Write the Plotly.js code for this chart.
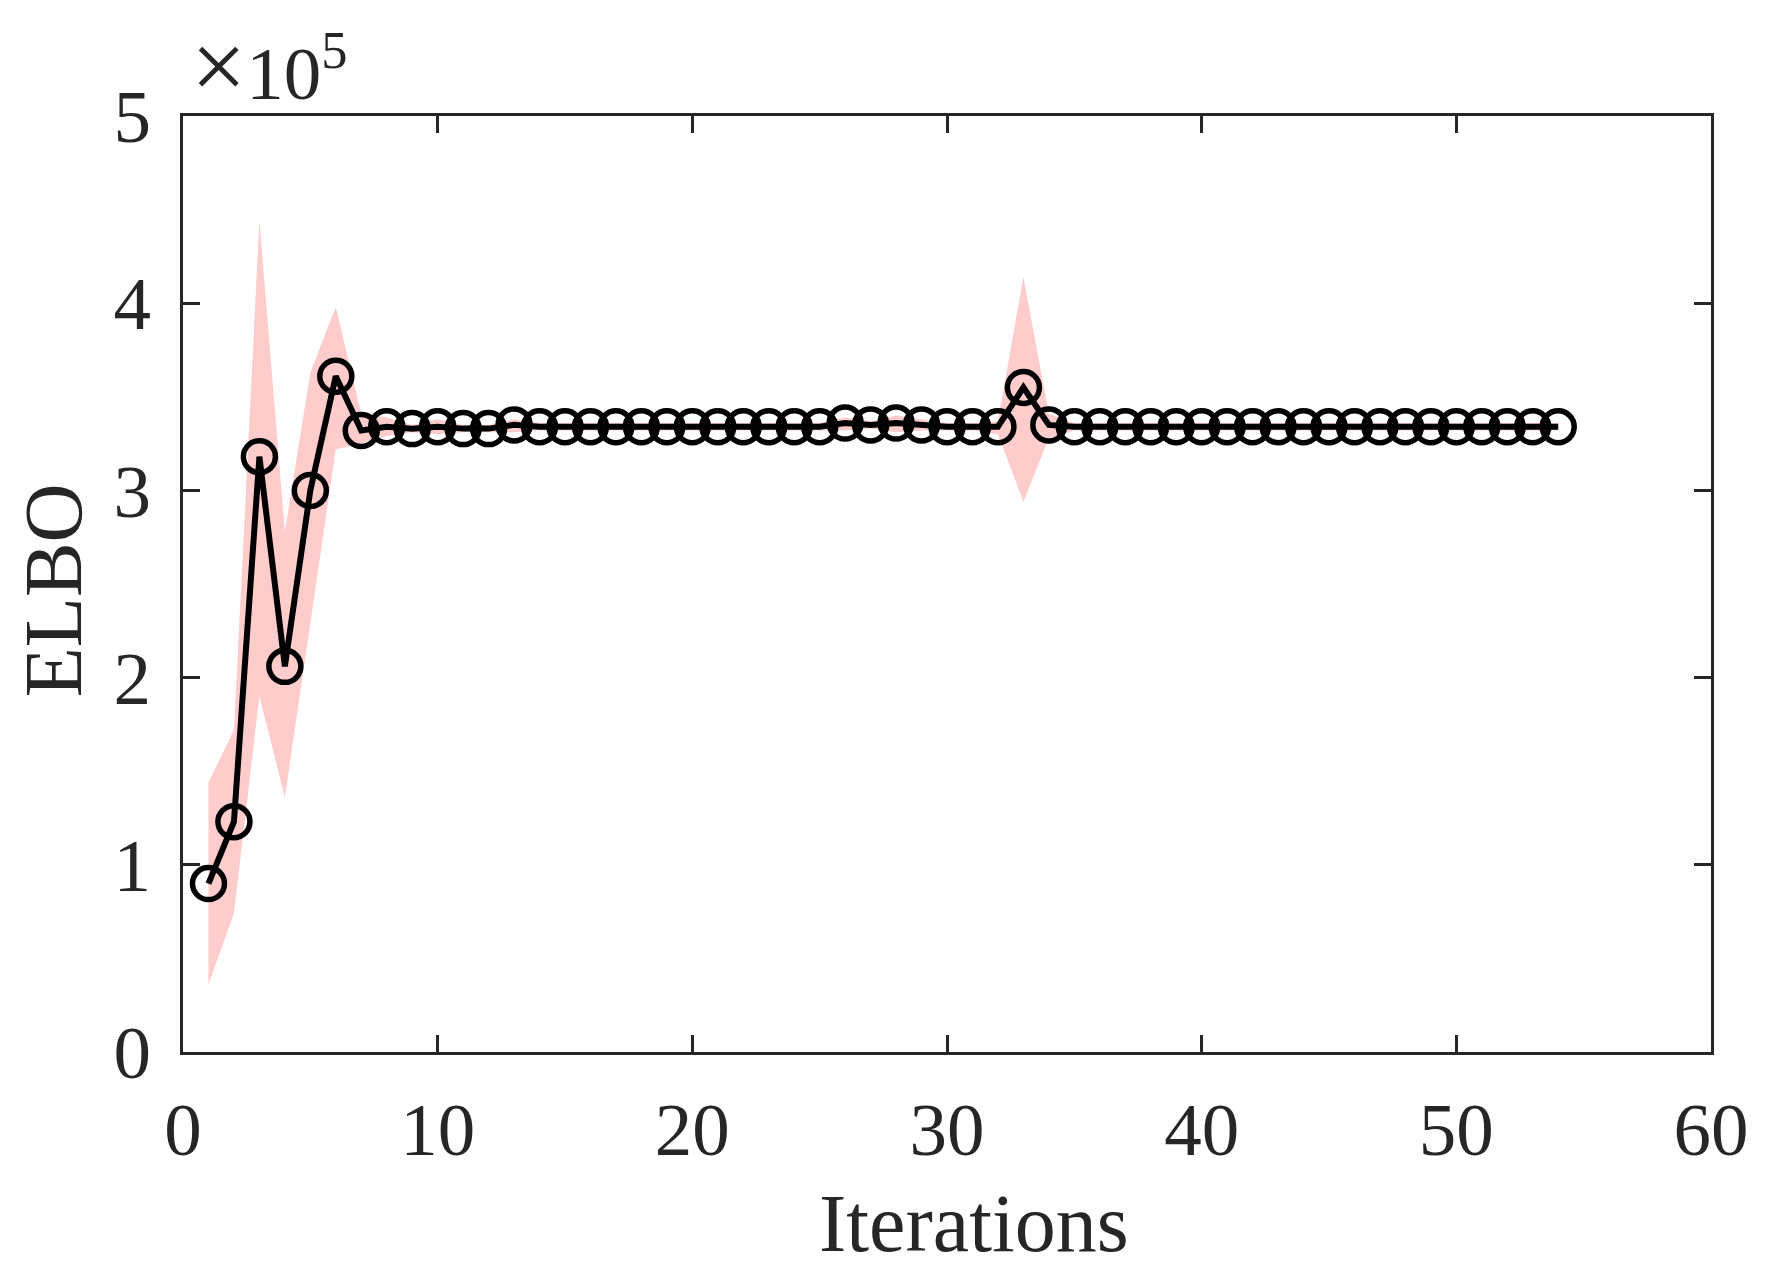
<!DOCTYPE html>
<html>
<head>
<meta charset="utf-8">
<script src="https://cdn.plot.ly/plotly-3.0.1.min.js"></script>
<style>
  html, body { margin: 0; padding: 0; background: #ffffff; }
  #chart { width: 1767px; height: 1277px; }
</style>
</head>
<body>
<div id="chart"></div>
<script>
// ---- Data (ELBO values in absolute units) ----
var iterations = [1,2,3,4,5,6,7,8,9,10,11,12,13,14,15,16,17,18,19,20,
  21,22,23,24,25,26,27,28,29,30,31,32,33,34,35,36,37,38,39,40,
  41,42,43,44,45,46,47,48,49,50,51,52,53,54];

var elboMean = [90000,123000,318000,206000,300000,361000,332000,334000,333000,334000,
  333000,333000,335000,334000,334000,334000,334000,334000,334000,334000,
  334000,334000,334000,334000,334000,336000,335000,336000,335000,334000,
  334000,334000,355000,335000,334000,334000,334000,334000,334000,334000,
  334000,334000,334000,334000,334000,334000,334000,334000,334000,334000,
  334000,334000,334000,334000];

var elboUpper = [144000,172000,444000,278000,363000,398000,341000,339000,335000,338000,
  335000,335000,338000,336000,336000,336000,336000,336000,336000,336000,
  336000,336000,336000,336000,336000,339000,337000,340000,338000,336000,
  336000,337000,414000,341000,336000,336000,336000,336000,336000,336000,
  336000,336000,336000,336000,336000,336000,336000,336000,336000,336000,
  336000,336000,336000,336000];

var elboLower = [36000,74000,190000,136000,230000,322000,325000,329000,331000,330000,
  331000,331000,331000,332000,332000,332000,332000,332000,332000,332000,
  332000,332000,332000,332000,332000,332000,333000,331000,332000,332000,
  332000,330000,294000,328000,332000,332000,332000,332000,332000,332000,
  332000,332000,332000,332000,332000,332000,332000,332000,332000,332000,
  332000,332000,332000,332000];

var xTickVals = [0,10,20,30,40,50,60];
var xTickText = ['0','10','20','30','40','50','60'];
var yTickVals = [0,100000,200000,300000,400000,500000];
var yTickText = ['0','1','2','3','4','5'];

// ---- Build band polygon from the arrays ----
var bandX = iterations.concat(iterations.slice().reverse());
var bandY = elboUpper.concat(elboLower.slice().reverse());

var axisColor = '#262626';
var fontFam = '"Liberation Serif", "Times New Roman", Times, serif';

var traces = [
  {
    x: bandX, y: bandY, type: 'scatter', mode: 'lines',
    fill: 'toself', fillcolor: 'rgb(255,204,204)',
    line: {width: 0, color: 'rgba(0,0,0,0)'},
    hoverinfo: 'skip', showlegend: false
  },
  {
    x: iterations, y: elboMean, type: 'scatter', mode: 'lines+markers',
    line: {color: '#000000', width: 6},
    marker: {symbol: 'circle-open', size: 32, color: '#000000',
             line: {color: '#000000', width: 5.5}},
    showlegend: false
  }
];

var axisCommon = {
  showline: true, linecolor: axisColor, linewidth: 3,
  mirror: 'ticks', ticks: 'inside', ticklen: 17, tickwidth: 3,
  tickcolor: axisColor, showgrid: false, zeroline: false,
  tickfont: {family: fontFam, size: 75, color: axisColor}
};

var layout = {
  width: 1767, height: 1277,
  paper_bgcolor: '#ffffff', plot_bgcolor: '#ffffff',
  margin: {l: 183, r: 56, t: 116, b: 225},
  showlegend: false,
  xaxis: Object.assign({}, axisCommon, {
    range: [0, 60], tickmode: 'array', tickvals: xTickVals, ticktext: xTickText,
    ticklabelstandoff: 10
  }),
  yaxis: Object.assign({}, axisCommon, {
    range: [0, 500000], tickmode: 'array', tickvals: yTickVals, ticktext: yTickText,
    ticklabelstandoff: 14
  }),
  annotations: [
    {
      text: 'Iterations', xref: 'paper', yref: 'paper',
      x: 0.5177, y: 0, yshift: -124, xanchor: 'center', yanchor: 'top',
      showarrow: false, font: {family: fontFam, size: 82, color: axisColor}
    },
    {
      text: 'ELBO', xref: 'paper', yref: 'paper', textangle: -90,
      x: -0.085, y: 0.4934, xanchor: 'center', yanchor: 'middle',
      showarrow: false, font: {family: fontFam, size: 82, color: axisColor}
    },
    {
      text: '<span style="font-size:98px">\u00d7</span>10<sup>5</sup>', xref: 'paper', yref: 'paper',
      x: 0, xshift: 6, y: 1, yshift: -6, xanchor: 'left', yanchor: 'bottom',
      showarrow: false, font: {family: fontFam, size: 75, color: axisColor}
    }
  ]
};

Plotly.newPlot('chart', traces, layout, {displayModeBar: false, staticPlot: true});
</script>
</body>
</html>
